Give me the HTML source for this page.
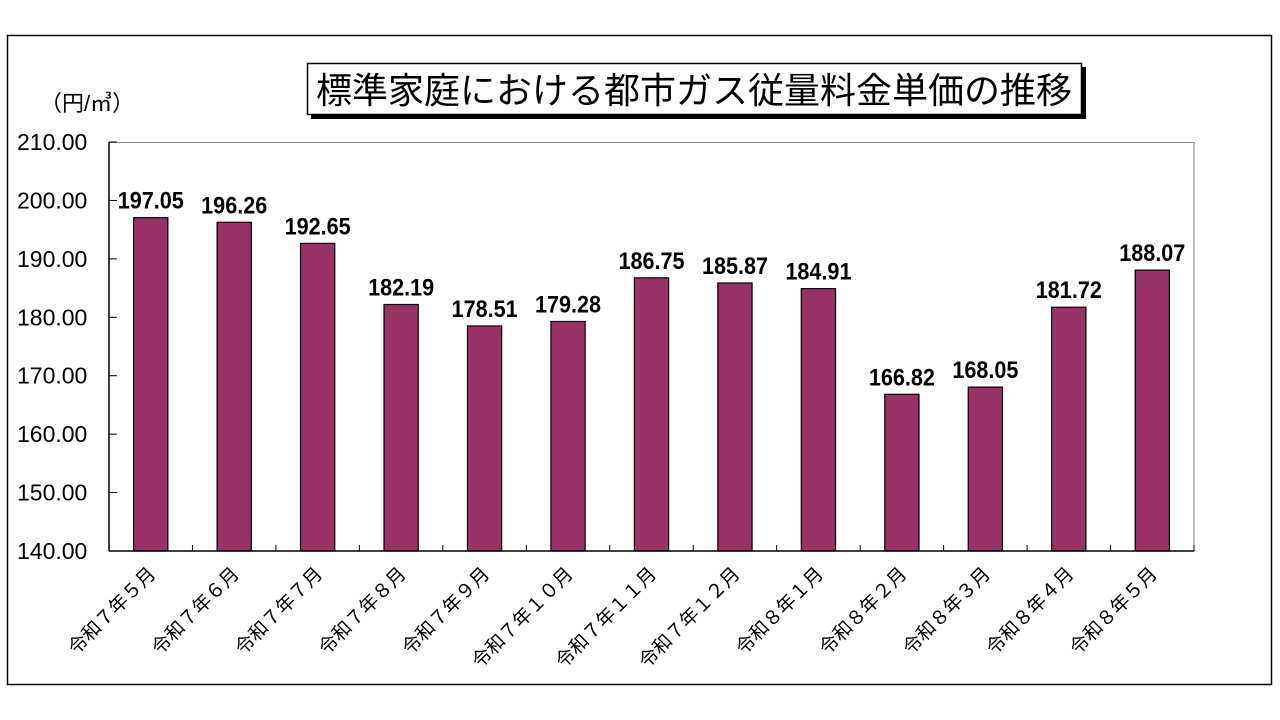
<!DOCTYPE html>
<html><head><meta charset="utf-8"><style>
body{margin:0;background:#fff;}
svg{display:block;font-family:"Liberation Sans","Noto Sans CJK JP",sans-serif;}
</style></head><body>
<svg id="chart" width="1280" height="720" viewBox="0 0 1280 720">
<rect x="7.5" y="35.5" width="1264" height="649" fill="#fff" stroke="#000" stroke-width="1.5"/>
<rect x="311" y="67" width="775" height="52" fill="#000"/>
<rect x="307.5" y="63.5" width="774" height="51" fill="#fff" stroke="#000" stroke-width="1.5"/>
<text x="694" y="103" font-size="36" text-anchor="middle">標準家庭における都市ガス従量料金単価の推移</text>
<text x="40" y="111" font-size="22">（円/㎥）</text>
<rect x="109" y="142.5" width="1085" height="408.5" fill="#fff" stroke="#888" stroke-width="1"/>
<g id="yaxis"></g><g id="bars"></g><g id="xaxis"></g>
</svg>
<script>
const categories=["令和７年５月","令和７年６月","令和７年７月","令和７年８月","令和７年９月","令和７年１０月","令和７年１１月","令和７年１２月","令和８年１月","令和８年２月","令和８年３月","令和８年４月","令和８年５月"];
const values=[197.05,196.26,192.65,182.19,178.51,179.28,186.75,185.87,184.91,166.82,168.05,181.72,188.07];
const yTicks=[140,150,160,170,180,190,200,210];
const yMin=140,yMax=210;
const L=109,R=1194,T=142,B=551;
const NS="http://www.w3.org/2000/svg";
const y=v=>B-(v-yMin)/(yMax-yMin)*(B-T);
const bw=(R-L)/categories.length;
const x=i=>L+bw*(i+0.5);
function mk(tag,attrs,parent,txt){const e=document.createElementNS(NS,tag);for(const k in attrs)e.setAttribute(k,attrs[k]);if(txt!==undefined)e.textContent=txt;parent.appendChild(e);return e;}
const ya=document.getElementById('yaxis'),bg=document.getElementById('bars'),xa=document.getElementById('xaxis');
yTicks.forEach(t=>{
  const l=mk('line',{x1:L,x2:L+8,y1:y(t),y2:y(t),stroke:'#000','stroke-width':1},ya);
  
  
  const tx=mk('text',{x:17,y:y(t)+8,'font-size':23},ya,t.toFixed(2));
  
  
});
const ax=mk('line',{x1:L,x2:L,y1:T,y2:B,stroke:'#000','stroke-width':1.5},ya);


values.forEach((v,i)=>{
  const w=bw*0.41;
  const r=mk('rect',{x:x(i)-w/2,y:y(v),width:w,height:B-y(v),fill:'#993366',stroke:'#000','stroke-width':1.2},bg);
  
  
  const tx0=x(i),ty0=y(v)-9;
  const t=mk('text',{x:0,y:0,'font-size':24,'font-weight':'bold','text-anchor':'middle',transform:`translate(${tx0} ${ty0}) scale(0.9 1)`},bg,v.toFixed(2));
  
  
});
const xl=mk('line',{x1:L,x2:R,y1:B,y2:B,stroke:'#000','stroke-width':1.5},xa);


categories.forEach((c,i)=>{
  const bx=L+bw*(i+1);
  const tk=mk('line',{x1:bx,x2:bx,y1:B,y2:B-6,stroke:'#000','stroke-width':1},xa);
  
  
  const cx=x(i)+6,cy=575;
  const t=mk('text',{x:cx,y:cy,'font-size':19,'text-anchor':'end',transform:`rotate(-45 ${cx} ${cy})`},xa,c);
  
  
});
</script>
</body></html>
